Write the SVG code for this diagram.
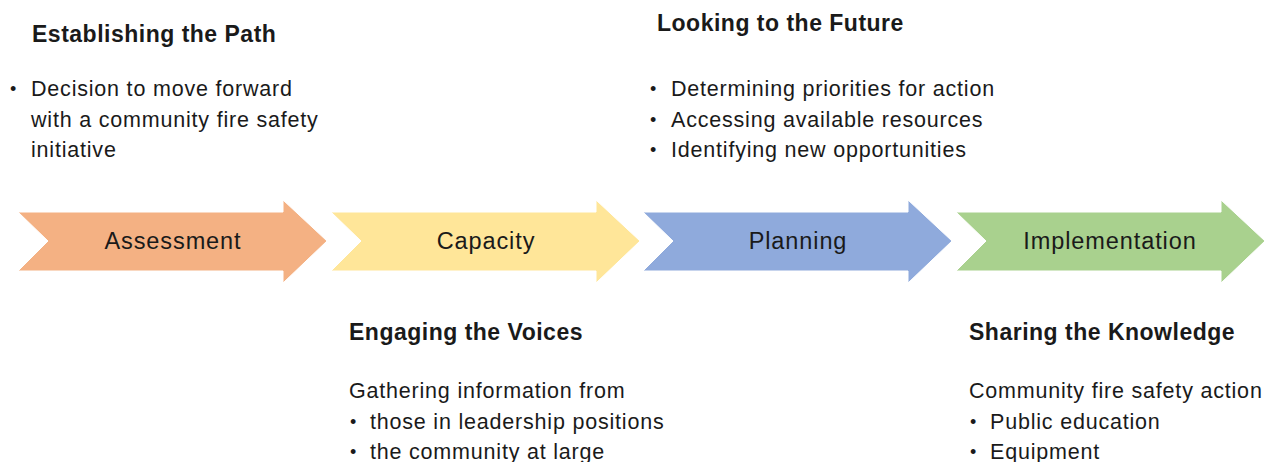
<svg xmlns="http://www.w3.org/2000/svg" width="1269" height="462" viewBox="0 0 1269 462">
  <style>
    text { font-family: "Liberation Sans", Arial, sans-serif; fill: #1a1a1a; }
    .title { font-size: 23px; font-weight: bold; letter-spacing: 0.5px; }
    .body { font-size: 21.5px; letter-spacing: 0.8px; }
    .dot { font-size: 18px; }
    .label { font-size: 23.5px; letter-spacing: 0.9px; text-anchor: middle; }
    .chev { stroke: #ffffff; stroke-width: 1; }
  </style>
  <defs>
    <!-- chevron stage shape, origin at the left edge, centred vertically -->
    <path id="chevron" d="M0,-29 H265 V-41 L309,0 L265,42 V30 H0 L30,0 Z"/>
  </defs>

  <g id="stage-assessment">
    <use href="#chevron" x="18" y="241" class="chev" fill="#F4B183"/>
    <text class="label" x="173" y="249">Assessment</text>
  </g>
  <g id="stage-capacity">
    <use href="#chevron" x="331" y="241" class="chev" fill="#FFE699"/>
    <text class="label" x="486" y="249">Capacity</text>
  </g>
  <g id="stage-planning">
    <use href="#chevron" x="643" y="241" class="chev" fill="#8FAADC"/>
    <text class="label" x="798" y="249">Planning</text>
  </g>
  <g id="stage-implementation">
    <use href="#chevron" x="956" y="241" class="chev" fill="#A9D18E"/>
    <text class="label" x="1110" y="249">Implementation</text>
  </g>

  <g id="note-path">
    <text class="title" x="32" y="42">Establishing the Path</text>
    <text class="body dot" x="10" y="95">•</text>
    <text class="body" x="31" y="96">Decision to move forward</text>
    <text class="body" x="31" y="127">with a community fire safety</text>
    <text class="body" x="31" y="157">initiative</text>
  </g>

  <g id="note-future">
    <text class="title" x="657" y="31">Looking to the Future</text>
    <text class="body dot" x="650" y="95">•</text>
    <text class="body" x="671" y="96">Determining priorities for action</text>
    <text class="body dot" x="650" y="126">•</text>
    <text class="body" x="671" y="127">Accessing available resources</text>
    <text class="body dot" x="650" y="156">•</text>
    <text class="body" x="671" y="157">Identifying new opportunities</text>
  </g>

  <g id="note-voices">
    <text class="title" x="349" y="340">Engaging the Voices</text>
    <text class="body" x="349" y="398">Gathering information from</text>
    <text class="body dot" x="350" y="428">•</text>
    <text class="body" x="370" y="429">those in leadership positions</text>
    <text class="body dot" x="350" y="458">•</text>
    <text class="body" x="370" y="459">the community at large</text>
  </g>

  <g id="note-knowledge">
    <text class="title" x="969" y="340">Sharing the Knowledge</text>
    <text class="body" x="969" y="398">Community fire safety action</text>
    <text class="body dot" x="970" y="428">•</text>
    <text class="body" x="990" y="429">Public education</text>
    <text class="body dot" x="970" y="458">•</text>
    <text class="body" x="990" y="459">Equipment</text>
  </g>

  <g id="connectors"></g>
</svg>
